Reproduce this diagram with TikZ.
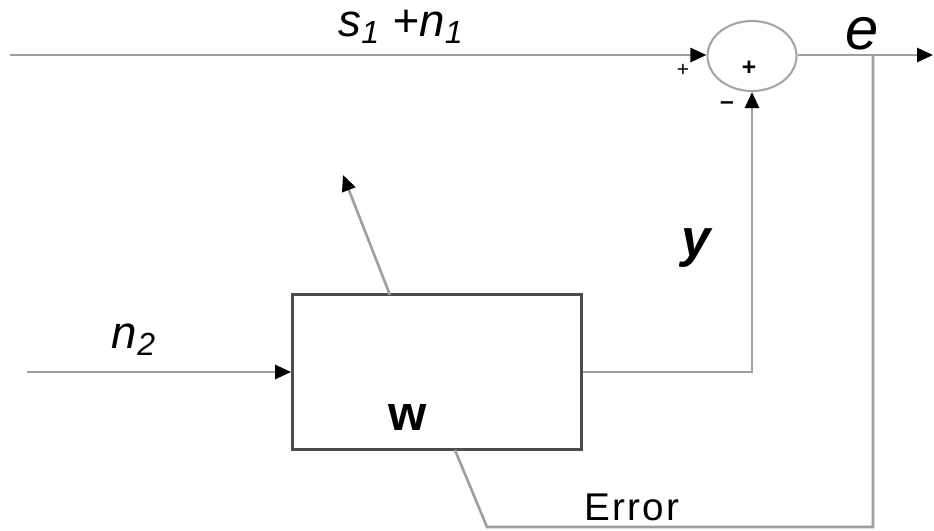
\documentclass[tikz,border=0pt]{standalone}
\usepackage{fontspec}
\setmainfont{Liberation Sans}
\usetikzlibrary{positioning,arrows.meta,shapes.geometric}
\tikzset{
  sig/.style={draw=gray!75, line width=1.5pt},
  arr/.style={sig, -{Triangle[length=3.2mm, width=2.8mm, color=black]}},
  filtbox/.style={draw=black!70, line width=1.6pt, minimum width=5.78cm, minimum height=3.1cm, inner sep=0pt},
  summ/.style={ellipse, draw=gray!70, line width=1.2pt, minimum width=1.78cm, minimum height=1.4cm, inner sep=0pt},
  var/.style={font=\fontsize{26}{28}\selectfont\itshape, inner sep=0pt},
  sgn/.style={font=\fontsize{14}{16}\selectfont\bfseries, inner sep=0pt},
}
\begin{document}
\begin{tikzpicture}[x=0.02cm, y=-0.02cm]
\useasboundingbox (0,0) rectangle (934,531);
% blocks
\node[summ] (sum) at (752,56) {};
\node[filtbox] (filt) at (437,372) {};
% end points
\coordinate (in1) at (10,55);
\coordinate (in2) at (27,372);
\coordinate (out) at (933,55);
\coordinate (tap) at (873,55);
\coordinate (fbk) at (873,527);
\coordinate (bend) at (487,527);
\coordinate (errin) at (455,450);
\coordinate (adfoot) at (390,295);
\coordinate (adtip) at (343,175);
% connectors
\draw[arr] (in1) -- (in1 -| sum.west);
\draw[arr] (sum.east |- tap) -- (out);
\draw[arr] (in2) -- (filt.west);
\draw[arr] (filt.east) -| (sum.south);
\draw[sig] (tap) -- (fbk) -- (bend) -- (errin);
\draw[arr] (adfoot) -- (adtip);
% labels
\node[var] (s1n1) at (401,27) {s\textsubscript{1} +n\textsubscript{1}};
\node[font=\fontsize{34}{36}\selectfont\itshape, inner sep=0pt] (elbl) at (862,34) {e};
\node[font=\fontsize{30}{32}\selectfont\bfseries\itshape, inner sep=0pt] (ylbl) at (696,248) {y};
\node[var] (n2lbl) at (134,340) {n\textsubscript{2}};
\node[font=\fontsize{28}{30}\selectfont\bfseries, inner sep=0pt] (wlbl) at (408,418) {w};
\node[font=\fontsize{22}{24}\selectfont\addfontfeature{LetterSpace=6}, inner sep=0pt] (errlbl) at (632,507) {Error};
\node[sgn] (pin) at (749,68) {+};
\node[sgn, font=\fontsize{12}{14}\selectfont] (pa) at (683,70) {+};
\node[sgn] (mb) at (727,106) {\textendash};
\end{tikzpicture}
\end{document}
